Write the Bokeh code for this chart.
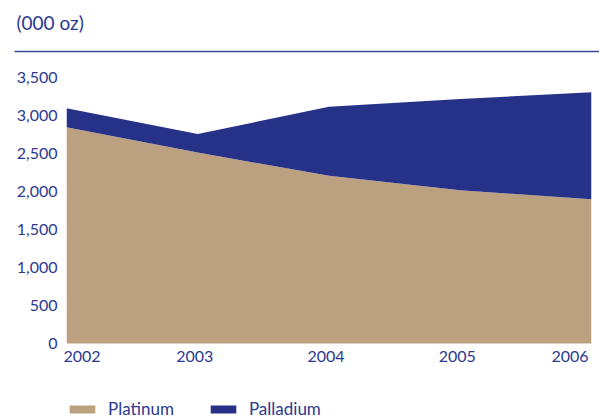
from bokeh.plotting import figure
from bokeh.models import (ColumnDataSource, FixedTicker, NumeralTickFormatter, Range1d,
                          Legend, LegendItem)
from bokeh.core.properties import value
from bokeh.embed import file_html
from bokeh.resources import INLINE

years = [2002, 2003, 2004, 2005, 2006]
year_labels = ["2002", "2003", "2004", "2005", "2006"]
platinum = [2850, 2515, 2210, 2020, 1900]
palladium = [250, 245, 910, 1200, 1410]
y_ticks = [0, 500, 1000, 1500, 2000, 2500, 3000, 3500]
unit_label = "(000 oz)"

NAVY = "#263287"
TAN = "#BBA17F"
TEXT = "#2B3990"
FONT = "Lato"

K = 0.0759  # px per unit (vertical)
PXY = 525 / 4  # px per year (horizontal)
y_top = 343 / K
src = ColumnDataSource(dict(x=years, Platinum=platinum, Palladium=palladium))

p = figure(width=599, height=418, output_backend="svg", toolbar_location=None,
           x_range=Range1d(2002, 2006), y_range=Range1d(-75 / K, y_top),
           min_border_left=66, min_border_right=8, min_border_top=0, min_border_bottom=0)

rs = p.varea_stack(stackers=["Platinum", "Palladium"], x="x", color=[TAN, NAVY], source=src)

p.grid.visible = False
p.outline_line_color = None
p.xaxis.visible = False

ya = p.yaxis[0]
ya.ticker = FixedTicker(ticks=y_ticks)
ya.formatter = NumeralTickFormatter(format="0,0")
ya.axis_line_color = None
ya.major_tick_line_color = None
ya.minor_tick_line_color = None
ya.major_tick_out = 0
ya.major_label_standoff = 9
ya.major_label_text_font = FONT
ya.major_label_text_font_size = "16px"
ya.major_label_text_color = TEXT

# unit label (title) at top-left
p.text(x=[years[0]], y=[y_top], text=[unit_label], x_offset=-50, y_offset=10,
       text_baseline="top", text_align="left", text_font=value(FONT),
       text_font_size="19px", text_color=TEXT, level="overlay")

# horizontal rule under the unit label
rule_y = y_top - 51 / K
p.segment(x0=[years[0] - 52 / PXY], x1=[years[-1] + 8 / PXY], y0=[rule_y], y1=[rule_y],
          line_color="#3A4A9A", line_width=1.6, level="overlay")

lab_src = ColumnDataSource(dict(x=years, y=[0] * 5, t=year_labels,
                                a=["left", "center", "center", "center", "right"]))
p.text(x="x", y="y", text="t", source=lab_src, text_align="a", y_offset=7,
       x_offset=-3, text_baseline="top", text_font=value(FONT),
       text_font_size="16px", text_color=TEXT, level="overlay")

legend = Legend(items=[LegendItem(label="Platinum", renderers=[rs[0]]),
                       LegendItem(label="Palladium", renderers=[rs[1]])],
                orientation="horizontal", location=(0, -1),
                glyph_width=32, glyph_height=10, label_standoff=10, spacing=33,
                padding=0, margin=0, border_line_color=None, background_fill_alpha=0,
                label_text_font=FONT, label_text_font_size="17px", label_text_color=TEXT,
                label_height=20)
p.add_layout(legend)

open("out.html", "w").write(file_html(p, INLINE))
